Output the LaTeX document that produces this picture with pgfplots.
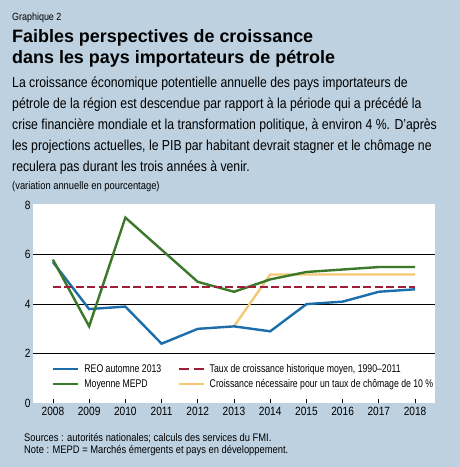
\documentclass[border=0pt]{standalone}
\usepackage{fontspec}
\setmainfont{Liberation Sans}[FakeStretch=0.848]
\newfontfamily\titlefont{Liberation Sans}[FakeStretch=1.0]
\newfontfamily\smallfont{Liberation Sans}[FakeStretch=0.855]
\newfontfamily\legendfont{Liberation Sans}[FakeStretch=0.78]
\usepackage{pgfplots}
\pgfplotsset{compat=1.18}

\definecolor{bg}{RGB}{189,209,224}
\definecolor{reoblue}{RGB}{28,110,170}
\definecolor{mepdgreen}{RGB}{60,120,42}
\definecolor{histred}{RGB}{160,28,56}
\definecolor{needyellow}{RGB}{244,200,116}

\begin{document}
\begin{tikzpicture}[x=1bp,y=1bp]
\fill[bg] (0,0) rectangle (460,-467);

% header
\node[anchor=base west, inner sep=0, font=\smallfont\fontsize{10.5}{12}\selectfont] at (12,-21) {Graphique 2};
\node[anchor=base west, inner sep=0, font=\titlefont\bfseries\fontsize{18}{21}\selectfont] at (12,-43) {Faibles perspectives de croissance};
\node[anchor=base west, inner sep=0, font=\titlefont\bfseries\fontsize{18}{21}\selectfont] at (12,-64) {dans les pays importateurs de pétrole};

\begin{scope}[every node/.style={anchor=base west, inner sep=0, font=\fontsize{14.5}{17}\selectfont}]
\node at (12,-88) {La croissance économique potentielle annuelle des pays importateurs de};
\node at (12,-109) {pétrole de la région est descendue par rapport à la période qui a précédé la};
\node at (12,-130) {crise financière mondiale et la transformation politique, à environ 4 \%. D’après};
\node at (12,-151) {les projections actuelles, le PIB par habitant devrait stagner et le chômage ne};
\node at (12,-172) {reculera pas durant les trois années à venir.};
\end{scope}

\node[anchor=base west, inner sep=0, font=\smallfont\fontsize{11}{13}\selectfont] at (12,-190) {(variation annuelle en pourcentage)};

% chart
\begin{axis}[
    at={(33bp,-403bp)}, anchor=south west,
    scale only axis, width=402bp, height=199bp,
    xmin=2007.45, xmax=2018.55,
    ymin=0, ymax=8.05,
    axis background/.style={fill=white},
    axis line style={draw=none},
    xtick={2008,2009,...,2018},
    xticklabels={2008,2009,2010,2011,2012,2013,2014,2015,2016,2017,2018},
    xtick pos=bottom, xtick align=inside,
    major tick length=4bp,
    x tick style={black, line width=0.8bp},
    ytick={2,4,6},
    extra y ticks={0,8},
    extra y tick style={grid=none},
    y tick style={draw=none},
    ymajorgrids,
    grid style={black, line width=0.7bp},
    /pgf/number format/assume math mode=true,
    tick label style={font=\fontsize{12}{14}\selectfont},
    xticklabel style={yshift=-1bp},
    yticklabel style={xshift=1bp},
    legend columns=2,
    legend cell align=left,
    legend style={at={(0.0473,0.133)}, anchor=west, draw=none, fill=none,
        inner sep=0pt, outer sep=0pt,
        font=\legendfont\fontsize{11.2}{13}\selectfont,
        nodes={inner sep=0pt, text height=8bp, text depth=2bp},
        row sep=5bp,
        /tikz/every odd column/.append style={column sep=5bp},
        /tikz/every even column/.append style={column sep=16bp}},
    legend image code/.code={\draw[#1] (0bp,0bp) -- (25bp,0bp);},
]
\addplot[needyellow, line width=2.4bp, forget plot] coordinates {
    (2013,3.1) (2014,5.2) (2015,5.2) (2016,5.2) (2017,5.2) (2018,5.2)
};
\addplot[reoblue, line width=2.4bp, forget plot] coordinates {
    (2008,5.7) (2009,3.8) (2010,3.9) (2011,2.4) (2012,3.0) (2013,3.1)
    (2014,2.9) (2015,4.0) (2016,4.1) (2017,4.5) (2018,4.6)
};
\addplot[mepdgreen, line width=2.4bp, forget plot] coordinates {
    (2008,5.8) (2009,3.1) (2010,7.5) (2011,6.2) (2012,4.9) (2013,4.5)
    (2014,5.0) (2015,5.3) (2016,5.4) (2017,5.5) (2018,5.5)
};
\addplot[histred, line width=2.4bp, dash pattern=on 8bp off 3.5bp, forget plot] coordinates {
    (2008,4.7) (2018,4.7)
};

\addlegendimage{reoblue, line width=2.4bp}
\addlegendentry{REO automne 2013}
\addlegendimage{histred, line width=2.4bp, dash pattern=on 10bp off 5bp}
\addlegendentry{Taux de croissance historique moyen, 1990–2011}
\addlegendimage{mepdgreen, line width=2.4bp}
\addlegendentry{Moyenne MEPD}
\addlegendimage{needyellow, line width=2.4bp}
\addlegendentry{Croissance nécessaire pour un taux de chômage de 10 \%}
\end{axis}

% footer
\node[anchor=base west, inner sep=0, font=\smallfont\fontsize{11}{13}\selectfont] at (24,-441) {Sources : autorités nationales; calculs des services du FMI.};
\node[anchor=base west, inner sep=0, font=\smallfont\fontsize{11}{13}\selectfont] at (24,-453) {Note : MEPD = Marchés émergents et pays en développement.};
\end{tikzpicture}
\end{document}
